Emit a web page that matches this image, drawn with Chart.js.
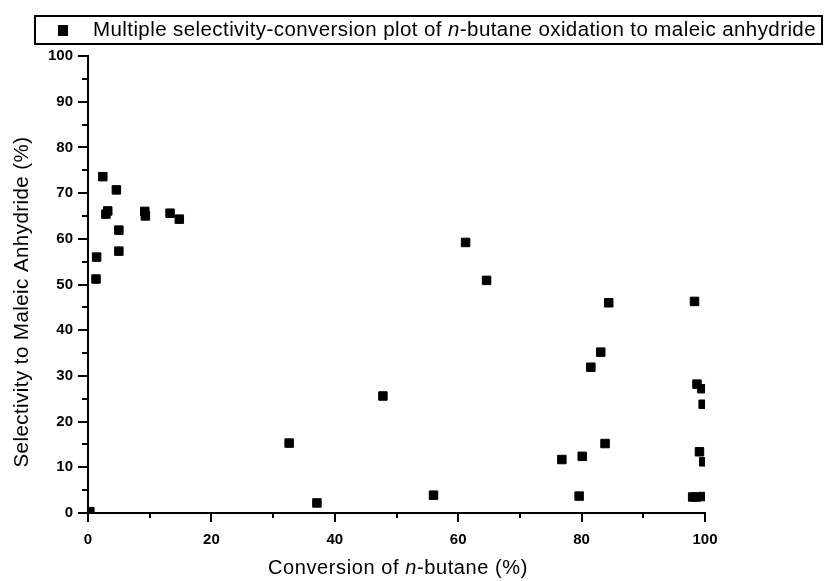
<!DOCTYPE html>
<html>
<head>
<meta charset="utf-8">
<script src="https://cdn.jsdelivr.net/npm/chart.js@4"></script>
<style>
  html, body { margin: 0; padding: 0; background: #fff; }
  #wrap { width: 824px; height: 581px; }
</style>
</head>
<body>
<div id="wrap"><canvas id="chart" width="824" height="581"></canvas></div>
<script>
// conversion of n-butane (%) and selectivity to maleic anhydride (%)
const conversion = [
  0.3, 1.3, 1.4, 2.4, 2.9, 3.2, 4.6, 5.0, 5.0, 9.2, 9.3, 13.3, 14.8,
  32.6, 37.1, 47.8, 56.0, 61.2, 64.6,
  76.8, 79.6, 80.1, 81.5, 83.1, 83.8, 84.4,
  98.3, 98.7, 99.5, 99.7, 99.1, 99.8, 98.0, 98.6, 99.7
];
const selectivity = [
  0.3, 51.2, 56.0, 73.6, 65.4, 66.1, 70.7, 61.9, 57.3, 66.0, 65.0, 65.6, 64.3,
  15.3, 2.2, 25.6, 3.9, 59.2, 50.9,
  11.7, 3.7, 12.4, 31.9, 35.2, 15.2, 46.0,
  46.3, 28.2, 27.2, 23.8, 13.4, 11.2, 3.5, 3.5, 3.6
];
const xTicks = [0, 20, 40, 60, 80, 100];
const yTicks = [0, 10, 20, 30, 40, 50, 60, 70, 80, 90, 100];

const seriesName = ['Multiple selectivity-conversion plot of ', ['n', true], '-butane oxidation to maleic anhydride'];
const xTitle = ['Conversion of ', ['n', true], '-butane (%)'];
const yTitle = 'Selectivity to Maleic Anhydride (%)';

const FAMILY = '"Liberation Sans", Arial, sans-serif';

// draws runs of plain / italic text, spread out to a given total width
function drawSegments(ctx, segs, x, y, size, align, width) {
  const parts = segs.map(s => Array.isArray(s) ? { t: s[0], it: s[1] } : { t: s, it: false });
  ctx.letterSpacing = '0px';
  let natural = 0, chars = 0;
  parts.forEach(p => {
    ctx.font = (p.it ? 'italic ' : '') + size + 'px ' + FAMILY;
    p.w = ctx.measureText(p.t).width;
    natural += p.w;
    chars += p.t.length;
  });
  const sp = width ? (width - natural) / chars : 0;
  const total = natural + sp * chars;
  let cx = align === 'center' ? x - total / 2 : x;
  ctx.textAlign = 'left';
  ctx.textBaseline = 'middle';
  ctx.letterSpacing = sp + 'px';
  parts.forEach(p => {
    ctx.font = (p.it ? 'italic ' : '') + size + 'px ' + FAMILY;
    ctx.fillText(p.t, cx, y);
    cx += p.w + sp * p.t.length;
  });
  ctx.letterSpacing = '0px';
}

const decorations = {
  id: 'decorations',
  afterDraw(chart) {
    const ctx = chart.ctx;
    const xs = chart.scales.x, ys = chart.scales.y;
    const area = chart.chartArea;
    ctx.save();
    ctx.strokeStyle = '#000';
    ctx.fillStyle = '#000';
    ctx.lineWidth = 2;

    // major and minor tick marks, outside the axes
    ctx.beginPath();
    for (let v = 0; v <= 100; v += 5) {
      const py = Math.round(ys.getPixelForValue(v));
      const len = v % 10 === 0 ? 10 : 6;
      ctx.moveTo(area.left - len, py);
      ctx.lineTo(area.left, py);
    }
    for (let v = 0; v <= 100; v += 10) {
      const px = Math.round(xs.getPixelForValue(v));
      const len = v % 20 === 0 ? 9 : 5;
      ctx.moveTo(px, area.bottom);
      ctx.lineTo(px, area.bottom + len);
    }
    ctx.stroke();

    // legend box
    ctx.lineWidth = 2;
    ctx.strokeRect(35, 16, 787, 28);
    ctx.fillRect(58, 25, 10, 11);
    drawSegments(ctx, seriesName, 93, 30, 20.5, 'left', 723);

    // axis titles
    drawSegments(ctx, xTitle, 398, 568, 20, 'center', 260);
    ctx.save();
    ctx.translate(22, 302);
    ctx.rotate(-Math.PI / 2);
    drawSegments(ctx, [yTitle], 0, 0, 20.5, 'center', 331);
    ctx.restore();

    ctx.restore();
  }
};

const tickFont = { family: FAMILY, size: 15, weight: 'bold' };

new Chart(document.getElementById('chart'), {
  type: 'scatter',
  data: {
    datasets: [{
      label: 'Multiple selectivity-conversion plot of n-butane oxidation to maleic anhydride',
      data: conversion.map((c, i) => ({ x: c, y: selectivity[i] })),
      pointStyle: 'rect',
      pointRadius: 6,
      pointHoverRadius: 6,
      backgroundColor: '#000',
      borderColor: '#000',
      borderWidth: 1
    }]
  },
  options: {
    responsive: false,
    animation: false,
    devicePixelRatio: 1,
    layout: { padding: { top: 56, right: 119, left: 0, bottom: 0 } },
    plugins: {
      legend: { display: false },
      tooltip: { enabled: false }
    },
    scales: {
      x: {
        type: 'linear',
        min: 0,
        max: 100,
        afterBuildTicks: s => { s.ticks = xTicks.map(v => ({ value: v })); },
        afterFit: s => { s.height = 68; },
        grid: { display: false, drawTicks: false },
        border: { display: true, color: '#000', width: 2 },
        ticks: { color: '#000', font: tickFont, padding: 18, maxRotation: 0 }
      },
      y: {
        type: 'linear',
        min: 0,
        max: 100,
        afterBuildTicks: s => { s.ticks = yTicks.map(v => ({ value: v })); },
        afterFit: s => { s.width = 88; },
        grid: { display: false, drawTicks: false },
        border: { display: true, color: '#000', width: 2 },
        ticks: { color: '#000', font: tickFont, padding: 15 }
      }
    }
  },
  plugins: [decorations]
});
</script>
</body>
</html>
